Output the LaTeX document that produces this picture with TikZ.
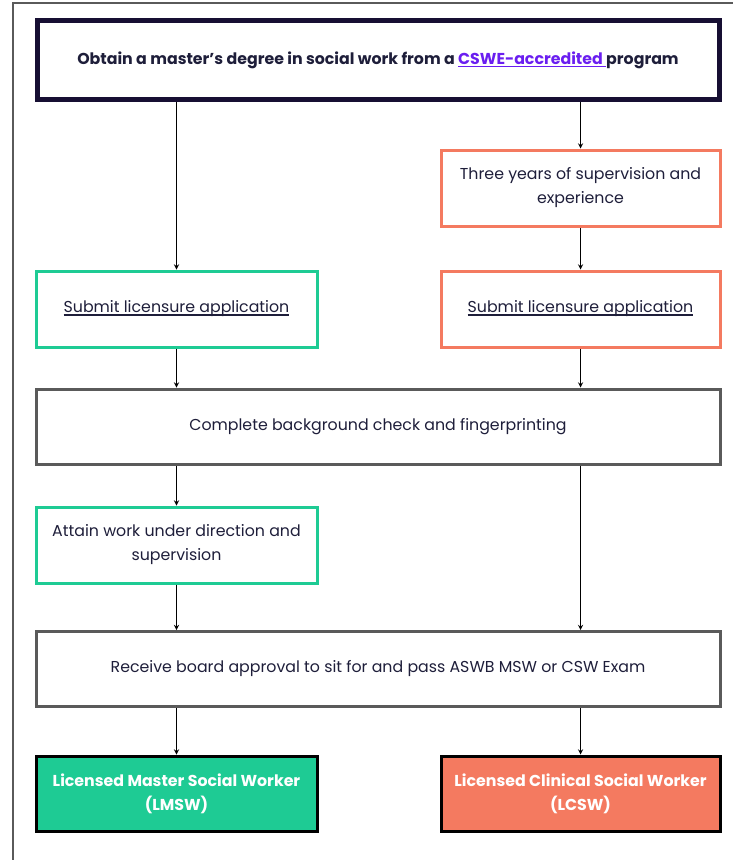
\documentclass[tikz,border=0pt]{standalone}
\usepackage{fontspec}
\setmainfont{Poppins}
\usepackage{xcolor}
\usepackage{tikz}

\definecolor{navy}{HTML}{170F33}
\definecolor{inktext}{HTML}{1E1E3A}
\definecolor{mswgreen}{HTML}{1ECB94}
\definecolor{cswsalmon}{HTML}{F47A60}
\definecolor{linkpurple}{HTML}{6A1EF0}
\definecolor{framegray}{HTML}{5A5A5A}

% underline close to the baseline, as on a web link
\newcommand{\weblink}[1]{\setbox0\hbox{#1}\rlap{\rule[-2.6pt]{\wd0}{1.1pt}}\box0}

\begin{document}
\begin{tikzpicture}[x=1pt, y=-1pt, >=stealth, font=\fontsize{15.8}{24}\selectfont]
    \tikzstyle{degree} = [rectangle, draw=navy, line width=5pt, minimum width=682pt, minimum height=79pt, text centered, text=inktext, font=\fontsize{15.8}{24}\selectfont\bfseries]
    \tikzstyle{msw} = [rectangle, draw=mswgreen, line width=3pt, minimum width=281pt, minimum height=76pt, align=center, text=inktext]
    \tikzstyle{csw} = [rectangle, draw=cswsalmon, line width=3pt, minimum width=279pt, minimum height=76pt, align=center, text=inktext]
    \tikzstyle{shared} = [rectangle, draw=framegray, line width=3pt, minimum width=684pt, minimum height=75pt, align=center, text=inktext]
    \tikzstyle{license} = [rectangle, draw=black, line width=3pt, minimum width=281pt, minimum height=75pt, align=center, text=white, font=\fontsize{15.8}{24}\selectfont\bfseries]
    \tikzstyle{flow} = [->, line width=1.3pt]

    % page and frame
    \useasboundingbox (0,0) rectangle (733,860);
    \draw [framegray, line width=1.5pt] (13,860) -- (13,3) -- (733,3);

    % degree
    \node [degree] (degree) at (378,60) {Obtain a master’s degree in social work from a \textcolor{linkpurple}{\weblink{CSWE-accredited\ }}program};

    % clinical track
    \node [csw] (experience) at (580.5,188) {Three years of supervision and\\experience};
    \node [csw] (apply_csw) at (580.5,309) {\weblink{Submit licensure application}};

    % master track
    \node [msw] (apply_msw) at (176.5,309) {\weblink{Submit licensure application}};

    % shared steps
    \node [shared] (background) at (378,426.5) {Complete background check and fingerprinting};
    \node [msw] (supervision) at (176.5,545) {Attain work under direction and\\supervision};
    \node [shared] (exam) at (378,669) {Receive board approval to sit for and pass ASWB MSW or CSW Exam};

    % licenses
    \node [license, fill=mswgreen] (lmsw) at (176.5,793.5) {Licensed Master Social Worker\\(LMSW)};
    \node [license, fill=cswsalmon, minimum width=279pt] (lcsw) at (580.5,793.5) {Licensed Clinical Social Worker\\(LCSW)};

    % connections
    \draw [flow] (degree.south -| apply_msw) -- (apply_msw);
    \draw [flow] (degree.south -| experience) -- (experience);
    \draw [flow] (experience) -- (apply_csw);

    \draw [flow] (apply_msw) -- (background.north -| apply_msw);
    \draw [flow] (apply_csw) -- (background.north -| apply_csw);

    \draw [flow] (background.south -| supervision) -- (supervision);
    \draw [flow] (supervision) -- (exam.north -| supervision);
    \draw [flow] (background.south -| apply_csw) -- (exam.north -| apply_csw);

    \draw [flow] (exam.south -| lmsw) -- (lmsw);
    \draw [flow] (exam.south -| lcsw) -- (lcsw);
\end{tikzpicture}
\end{document}
